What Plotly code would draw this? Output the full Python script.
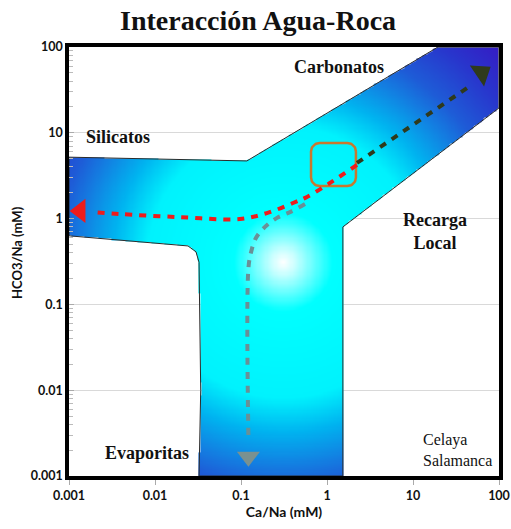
import numpy as np
import plotly.graph_objects as go

# ---- Axis ticks -------------------------------------------------------------
X_TICKS = [0.001, 0.01, 0.1, 1, 10, 100]
X_TICK_TEXT = ["0.001", "0.01", "0.1", "1", "10", "100"]
Y_TICKS = [0.001, 0.01, 0.1, 1, 10, 100]
Y_TICK_TEXT = ["0.001", "0.01", "0.1", "1", "10", "100"]
Y_MINOR_TICKS = [k * 10.0 ** e for e in range(-3, 2) for k in range(2, 10)]

# ---- Y-shaped water-rock interaction field (Ca/Na, HCO3/Na) -----------------
REGION_CA_NA = [0.001, 0.117, 19.5, 100, 100, 1.53, 1.53,
                0.0325, 0.034, 0.033, 0.0325, 0.030, 0.0242, 0.001]
REGION_HCO3_NA = [5.2, 4.7, 100, 100, 19.5, 0.80, 0.001,
                  0.001, 0.01, 0.11, 0.31, 0.41, 0.48, 0.63]
# point of lowest mineralisation inside the field (lightest colour)
FIELD_CENTER = (0.31, 0.31)

# ---- Evolution paths ---------------------------------------------------------
SILICATE_X = [2.23, 1.08, 0.585, 0.403, 0.200, 0.0973, 0.0195, 0.00392, 0.0019]
SILICATE_Y = [4.22, 2.60, 1.79, 1.52, 1.16, 0.99, 1.04, 1.13, 1.19]
SILICATE_HEAD = (0.00135, 1.23)

EVAPORITE_X = [0.555, 0.371, 0.262, 0.190, 0.149, 0.131, 0.122, 0.122]
EVAPORITE_Y = [1.48, 1.19, 1.02, 0.80, 0.594, 0.408, 0.265, 0.00263]
EVAPORITE_HEAD = (0.122, 0.00168)

CARBONATE_X = [2.23, 46.0]
CARBONATE_Y = [4.45, 35.1]
CARBONATE_HEAD = (62.6, 49.8)

# ---- Sample group box (Celaya-Salamanca) -------------------------------------
BOX_CA_NA = (0.652, 2.17)
BOX_HCO3_NA = (2.40, 7.6)

fig = go.Figure()

# gradient fill of the field: colour grows with log-distance from its centre
n = 380
lx = np.linspace(-3, 2, n)
ly = np.linspace(-3, 2, n)
GX, GY = np.meshgrid(lx, ly)
px_ = np.log10(np.array(REGION_CA_NA))
py_ = np.log10(np.array(REGION_HCO3_NA))
inside = np.zeros(GX.shape, dtype=bool)
j = len(px_) - 1
for i in range(len(px_)):
    xi, yi, xj, yj = px_[i], py_[i], px_[j], py_[j]
    cond = ((yi > GY) != (yj > GY))
    with np.errstate(divide="ignore", invalid="ignore"):
        xcross = (xj - xi) * (GY - yi) / (yj - yi) + xi
    inside ^= cond & (GX < xcross)
    j = i
cx, cy = np.log10(FIELD_CENTER[0]), np.log10(FIELD_CENTER[1])
Z = np.hypot(GX - cx, GY - cy)
Z = np.where(inside, Z, np.nan)

colorscale = [
    [0.00, "rgb(255,255,255)"],
    [0.04, "rgb(200,255,255)"],
    [0.16, "rgb(0,255,255)"],
    [0.44, "rgb(0,242,253)"],
    [0.55, "rgb(0,180,240)"],
    [0.66, "rgb(20,125,225)"],
    [0.73, "rgb(30,92,215)"],
    [0.86, "rgb(40,55,205)"],
    [1.00, "rgb(55,25,195)"],
]
fig.add_trace(go.Heatmap(
    x=10 ** lx, y=10 ** ly, z=Z, zmin=0, zmax=3.6,
    colorscale=colorscale, showscale=False, hoverinfo="skip",
    zsmooth=False,
))

# field outline
fig.add_trace(go.Scatter(
    x=REGION_CA_NA + [REGION_CA_NA[0]], y=REGION_HCO3_NA + [REGION_HCO3_NA[0]],
    mode="lines", line=dict(color="#2b2b2b", width=1), hoverinfo="skip",
))

# rounded box around the sample group
bx0, bx1 = np.log10(BOX_CA_NA)
by0, by1 = np.log10(BOX_HCO3_NA)
r = 0.1
corners = [(bx1 - r, by1 - r, 0), (bx0 + r, by1 - r, 90),
           (bx0 + r, by0 + r, 180), (bx1 - r, by0 + r, 270)]
bxs, bys = [], []
for ccx, ccy, a0 in corners:
    t = np.radians(np.linspace(a0, a0 + 90, 12))
    bxs += list(ccx + r * np.cos(t))
    bys += list(ccy + r * np.sin(t))
bxs.append(bxs[0]); bys.append(bys[0])
fig.add_trace(go.Scatter(
    x=10 ** np.array(bxs), y=10 ** np.array(bys), mode="lines",
    line=dict(color="#c8782f", width=2.5), hoverinfo="skip",
))

# evolution paths
fig.add_trace(go.Scatter(
    x=EVAPORITE_X, y=EVAPORITE_Y, mode="lines",
    line=dict(color="#6a9096", width=4, dash="7px,7px", shape="spline"),
    hoverinfo="skip",
))
fig.add_trace(go.Scatter(
    x=[EVAPORITE_HEAD[0]], y=[EVAPORITE_HEAD[1]], mode="markers",
    marker=dict(symbol="triangle-down", size=20, color="#7a9190"),
    hoverinfo="skip",
))
fig.add_trace(go.Scatter(
    x=CARBONATE_X, y=CARBONATE_Y, mode="lines",
    line=dict(color="#2f3a1c", width=4, dash="7px,7px"), hoverinfo="skip",
))
fig.add_trace(go.Scatter(
    x=[CARBONATE_HEAD[0]], y=[CARBONATE_HEAD[1]], mode="markers",
    marker=dict(symbol="triangle-right", size=22, color="#2f3a1c", angle=-34),
    hoverinfo="skip",
))
fig.add_trace(go.Scatter(
    x=SILICATE_X, y=SILICATE_Y, mode="lines",
    line=dict(color="#ee1c1c", width=4, dash="7px,7px", shape="spline"),
    hoverinfo="skip",
))
fig.add_trace(go.Scatter(
    x=[SILICATE_HEAD[0]], y=[SILICATE_HEAD[1]], mode="markers",
    marker=dict(symbol="triangle-left", size=21, color="#ee1c1c"),
    hoverinfo="skip",
))

serif = "Liberation Serif, Times New Roman, serif"
sans = "Lato, Open Sans, sans-serif"


def label(text, x, y, size=18, bold=True, xanchor="center"):
    fig.add_annotation(
        text=text, x=x, y=y, xref="paper", yref="paper", showarrow=False,
        xanchor=xanchor, yanchor="middle",
        font=dict(family=serif, size=size, color="#111",
                  weight="bold" if bold else "normal"),
    )


label("Carbonatos", 0.628, 0.953)
label("Silicatos", 0.114, 0.790)
label("Recarga<br>Local", 0.851, 0.571)
label("Evaporitas", 0.181, 0.054)
label("Celaya", 0.819, 0.084, size=16, bold=False, xanchor="left")
label("Salamanca", 0.819, 0.035, size=16, bold=False, xanchor="left")

fig.add_annotation(
    text="HCO3/Na (mM)", x=-0.121, y=0.522, xref="paper", yref="paper",
    textangle=-90, showarrow=False, xanchor="center", yanchor="middle",
    font=dict(family=sans, size=13, color="#111", weight="bold"),
)

fig.update_layout(
    width=511, height=529,
    margin=dict(l=69, r=12, t=47, b=53, autoexpand=False),
    paper_bgcolor="white", plot_bgcolor="white",
    showlegend=False,
    title=dict(text="Interacción Agua-Roca", x=0.505, xanchor="center",
               y=0.962, yanchor="middle",
               font=dict(family=serif, size=28, color="#111", weight="bold")),
    xaxis=dict(
        type="log", range=[-3, 2], tickvals=X_TICKS, ticktext=X_TICK_TEXT,
        showgrid=False, zeroline=False, automargin=False,
        showline=True, linecolor="black", linewidth=3.5, mirror=True,
        ticks="outside", ticklen=5, tickcolor="#aaaaaa", tickwidth=1,
        tickfont=dict(family=sans, size=12.5, color="#111", weight="bold"),
        title=dict(text="Ca/Na (mM)", standoff=6,
                   font=dict(family=sans, size=14, color="#111", weight="bold")),
    ),
    yaxis=dict(
        type="log", range=[-3, 2], tickvals=Y_TICKS, ticktext=Y_TICK_TEXT,
        showgrid=True, gridcolor="#d9d9d9", gridwidth=1, zeroline=False,
        automargin=False,
        showline=True, linecolor="black", linewidth=3.5, mirror=True,
        ticks="inside", ticklen=5, tickcolor="#aaaaaa", tickwidth=1,
        minor=dict(tickvals=Y_MINOR_TICKS, ticks="inside", ticklen=4,
                   tickcolor="#bbbbbb", showgrid=False),
        tickfont=dict(family=sans, size=12.5, color="#111", weight="bold"),
    ),
)

fig.write_html("out.html")
